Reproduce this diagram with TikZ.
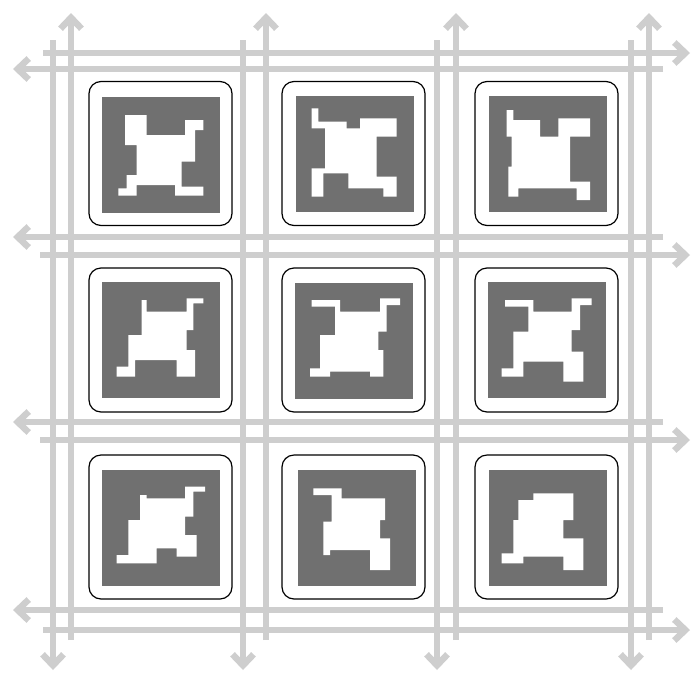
\documentclass[tikz,border=0pt]{standalone}
\usepackage{tikz}
\usetikzlibrary{arrows.meta}
\definecolor{roadgray}{RGB}{206,206,206}
\definecolor{blockgray}{RGB}{112,112,112}
\tikzset{
  road/.style={draw=roadgray, line width=6.5pt},
  way/.style={road, -{Straight Barb[length=11pt, width=21pt]}},
  bldg/.style={
    draw, rounded corners=12pt, line width=1.2pt, fill=white,
    minimum width=143pt, minimum height=144pt, inner sep=0pt
  },
  block/.style={fill=blockgray, minimum width=118pt, minimum height=116pt, inner sep=0pt},
  court/.style={fill=white}
}

\begin{document}
\begin{tikzpicture}[x=1pt, y=-1pt]
  \useasboundingbox (0,0) rectangle (695,675);

  \draw[way] (53,40) -- (53,670);
  \draw[way] (71,640) -- (71,13);
  \draw[way] (243,40) -- (243,670);
  \draw[way] (266,640) -- (266,13);
  \draw[way] (437,40) -- (437,670);
  \draw[way] (456,640) -- (456,13);
  \draw[way] (631,40) -- (631,670);
  \draw[way] (649,640) -- (649,13);

  \draw[way] (43,53) -- (690,53);
  \draw[way] (663,69) -- (13,69);
  \draw[way] (663,237) -- (13,237);
  \draw[way] (40,255) -- (690,255);
  \draw[way] (663,422) -- (13,422);
  \draw[way] (40,440) -- (690,440);
  \draw[way] (663,610) -- (13,610);
  \draw[way] (43,630) -- (690,630);

  \node[bldg] (b11) at (160.5,153.5) {};
  \node[bldg] (b12) at (353.5,153.5) {};
  \node[bldg] (b13) at (546.5,153.5) {};
  \node[bldg] (b21) at (160.5,340) {};
  \node[bldg] (b22) at (353.5,340) {};
  \node[bldg] (b23) at (546.5,340) {};
  \node[bldg] (b31) at (160.5,527) {};
  \node[bldg] (b32) at (353.5,527) {};
  \node[bldg] (b33) at (546.5,527) {};

  \node[block] (k11) at (161,155) {};
  \node[block] (k12) at (355,153.5) {};
  \node[block] (k13) at (548,153.5) {};
  \node[block] (k21) at (161,340) {};
  \node[block] (k22) at (354,341) {};
  \node[block] (k23) at (547,340) {};
  \node[block] (k31) at (161,527.5) {};
  \node[block] (k32) at (356.5,527.5) {};
  \node[block] (k33) at (547.5,527.5) {};

  % courtyards
  \begin{scope}[shift={(85,75)}, scale=1/3]
    \fill[court] (120,120) -- (185,120) -- (185,180) -- (300,180) -- (300,135)
      -- (355,135) -- (355,165) -- (330,165) -- (330,260) -- (290,260)
      -- (290,335) -- (355,335) -- (355,362) -- (270,362) -- (270,330)
      -- (155,330) -- (155,362) -- (100,362) -- (100,340) -- (125,340)
      -- (125,300) -- (155,300) -- (155,210) -- (120,210) -- cycle;
  \end{scope}
  \begin{scope}[shift={(270,75)}, scale=1/3]
    \fill[court] (125,100) -- (145,100) -- (145,140) -- (230,140) -- (230,160)
      -- (270,160) -- (270,130) -- (380,130) -- (380,185) -- (320,185)
      -- (320,305) -- (380,305) -- (380,365) -- (340,365) -- (340,340)
      -- (235,340) -- (235,295) -- (160,295) -- (160,365) -- (125,365)
      -- (125,280) -- (165,280) -- (165,160) -- (125,160) -- cycle;
  \end{scope}
  \begin{scope}[shift={(430,0)}, scale=1/3]
    \fill[court] (230,330) -- (250,330) -- (250,360) -- (330,360) -- (330,410)
      -- (385,410) -- (385,355) -- (480,355) -- (480,410) -- (420,410)
      -- (420,545) -- (480,545) -- (480,600) -- (440,600) -- (440,565)
      -- (265,565) -- (265,590) -- (235,590) -- (235,500) -- (245,500)
      -- (245,410) -- (230,410) -- cycle;
  \end{scope}
  \begin{scope}[shift={(85,260)}, scale=1/3]
    \fill[court] (170,120) -- (185,120) -- (185,155) -- (305,155) -- (305,115)
      -- (355,115) -- (355,130) -- (325,130) -- (325,210) -- (305,210)
      -- (305,270) -- (330,270) -- (330,350) -- (275,350) -- (275,300)
      -- (150,300) -- (150,350) -- (95,350) -- (95,320) -- (130,320)
      -- (130,225) -- (170,225) -- cycle;
  \end{scope}
  \begin{scope}[shift={(270,260)}, scale=1/3]
    \fill[court] (125,120) -- (210,120) -- (210,155) -- (330,155) -- (330,115)
      -- (390,115) -- (390,135) -- (350,135) -- (350,215) -- (325,215)
      -- (325,270) -- (340,270) -- (340,350) -- (300,350) -- (300,335)
      -- (180,335) -- (180,350) -- (120,350) -- (120,325) -- (150,325)
      -- (150,225) -- (195,225) -- (195,140) -- (125,140) -- cycle;
  \end{scope}
  \begin{scope}[shift={(465,260)}, scale=1/3]
    \fill[court] (120,120) -- (205,120) -- (205,155) -- (320,155) -- (320,115)
      -- (380,115) -- (380,135) -- (345,135) -- (345,210) -- (320,210)
      -- (320,275) -- (355,275) -- (355,365) -- (295,365) -- (295,305)
      -- (175,305) -- (175,350) -- (110,350) -- (110,325) -- (145,325)
      -- (145,215) -- (190,215) -- (190,140) -- (120,140) -- cycle;
  \end{scope}
  \begin{scope}[shift={(0,420)}, scale=1/3]
    \fill[court] (420,225) -- (440,225) -- (440,235) -- (555,235) -- (555,200)
      -- (615,200) -- (615,215) -- (580,215) -- (580,290) -- (555,290)
      -- (555,345) -- (590,345) -- (590,410) -- (530,410) -- (530,385)
      -- (470,385) -- (470,430) -- (350,430) -- (350,405) -- (385,405)
      -- (385,300) -- (420,300) -- cycle;
  \end{scope}
  \begin{scope}[shift={(270,445)}, scale=1/3]
    \fill[court] (130,130) -- (215,130) -- (215,160) -- (345,160) -- (345,225)
      -- (330,225) -- (330,280) -- (360,280) -- (360,375) -- (300,375)
      -- (300,315) -- (180,315) -- (180,330) -- (160,330) -- (160,230)
      -- (185,230) -- (185,150) -- (130,150) -- cycle;
  \end{scope}
  \begin{scope}[shift={(430,420)}, scale=1/3]
    \fill[court] (265,240) -- (310,240) -- (310,220) -- (430,220) -- (430,300)
      -- (400,300) -- (400,355) -- (460,355) -- (460,450) -- (400,450)
      -- (400,410) -- (280,410) -- (280,430) -- (215,430) -- (215,400)
      -- (250,400) -- (250,300) -- (265,300) -- cycle;
  \end{scope}
\end{tikzpicture}
\end{document}
